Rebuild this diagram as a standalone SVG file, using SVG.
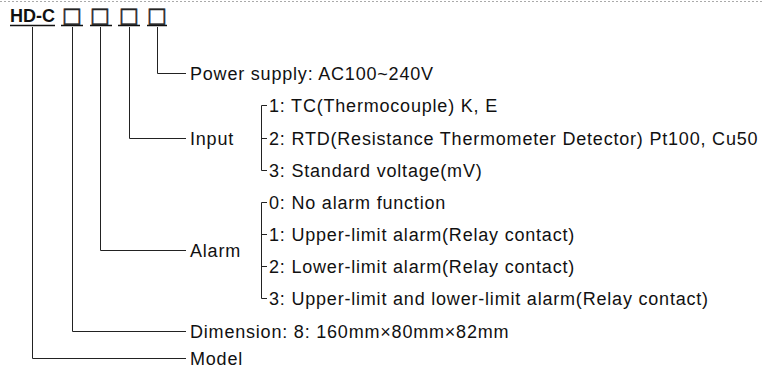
<svg xmlns="http://www.w3.org/2000/svg" width="762" height="375" viewBox="0 0 762 375">
<style>
.t{font-family:"Liberation Sans",Arial,sans-serif;font-size:18px;letter-spacing:0.8px;fill:#111}
.b{font-weight:bold;letter-spacing:0}
.box{font-family:"DejaVu Sans",sans-serif;font-size:21px;fill:#222;stroke:#222;stroke-width:0.5;text-anchor:middle}
.ln{stroke:#222;stroke-width:1;fill:none}
.ul{stroke:#111;stroke-width:1.6;fill:none}
</style>
<rect width="762" height="375" fill="#fff"/>
<line x1="0" y1="1.5" x2="762" y2="1.5" stroke="#aaa" stroke-width="1" stroke-dasharray="2 2"/>
<g id="header">
<text class="t b" x="10" y="22">HD-C</text>
<g opacity="0.99">
<text class="box" x="72" y="22">□</text>
<text class="box" x="100" y="22">□</text>
<text class="box" x="129" y="22">□</text>
<text class="box" x="157" y="22">□</text>
</g>
<path class="ul" d="M10 25.5H55M61 25.5H83M90 25.5H112M118 25.5H140M147 25.5H167"/>
</g>
<g id="connectors">
<path class="ln" d="M32.5 27V358.5H186"/>
<path class="ln" d="M72.5 27V331.5H186"/>
<path class="ln" d="M100.5 27V250.5H186"/>
<path class="ln" d="M129.5 27V138.5H186"/>
<path class="ln" d="M157.5 27V73.5H186"/>
<path class="ln" d="M267 105.5H261.5V170.5H267M261.5 138.5H267"/>
<path class="ln" d="M267 202.5H261.5V298.5H267M261.5 234.5H267M261.5 266.5H267"/>
</g>
<g id="power"><text class="t" x="190" y="80">Power supply: AC100~240V</text></g>
<g id="input">
<text class="t" x="190" y="145">Input</text>
<text class="t" x="269" y="112">1: TC(Thermocouple) K, E</text>
<text class="t" x="269" y="145">2: RTD(Resistance Thermometer Detector) Pt100, Cu50</text>
<text class="t" x="269" y="177">3: Standard voltage(mV)</text>
</g>
<g id="alarm">
<text class="t" x="190" y="257">Alarm</text>
<text class="t" x="269" y="209">0: No alarm function</text>
<text class="t" x="269" y="241">1: Upper-limit alarm(Relay contact)</text>
<text class="t" x="269" y="273">2: Lower-limit alarm(Relay contact)</text>
<text class="t" x="269" y="305">3: Upper-limit and lower-limit alarm(Relay contact)</text>
</g>
<g id="dimension"><text class="t" x="190" y="338">Dimension: 8: 160mm×80mm×82mm</text></g>
<g id="model"><text class="t" x="190" y="365">Model</text></g>
</svg>
